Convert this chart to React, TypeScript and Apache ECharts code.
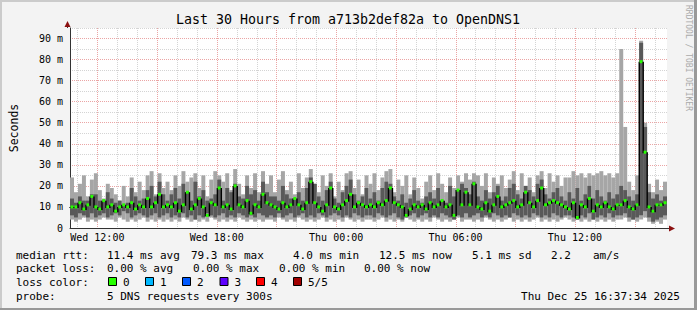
import React, { useEffect, useRef } from 'react';
import * as echarts from 'echarts';

// ---- time axis (hours since Wed 00:00) ----
const START_HOUR = 10 + 37 / 60 + 34 / 3600; // Wed 10:37:34
const RANGE_HOURS = 30;
const STEP_HOURS = 0.2; // 12 minute columns
const HOUR_MARKS = [11, 12, 13, 14, 15, 16, 17, 18, 19, 20, 21, 22, 23, 24, 25, 26, 27, 28, 29, 30, 31, 32, 33, 34, 35, 36, 37, 38, 39, 40];
const LABEL_HOURS = [12, 18, 24, 30, 36];
const LABEL_TEXTS = ['Wed 12:00', 'Wed 18:00', 'Thu 00:00', 'Thu 06:00', 'Thu 12:00'];

// ---- y axis (ms) ----
const Y_MAX = 95;
const Y_STEP = 5;

// ---- smoke data (ms), 150 columns ----
const SMOKE_MAX = [
  24, 17, 21, 25, 15, 23, 26, 18, 14, 21, 19, 16, 13, 20, 15, 24, 17, 22, 18, 25, 27, 16, 26, 19, 22,
  18, 25, 20, 27, 22, 24, 26, 19, 25, 15, 23, 27, 25, 22, 26, 18, 28, 21, 16, 25, 19, 26, 17, 27, 21,
  25, 17, 23, 27, 18, 22, 16, 26, 19, 24, 28, 21, 17, 25, 20, 26, 15, 22, 18, 26, 27, 19, 23, 16, 25,
  21, 26, 18, 24, 27, 28, 17, 23, 20, 25, 16, 24, 19, 14, 22, 25, 18, 26, 21, 17, 24, 19, 25, 22, 26,
  23, 26, 25, 20, 26, 17, 24, 21, 25, 19, 23, 27, 18, 26, 20, 24, 17, 25, 27, 19, 26, 22, 25, 20, 24,
  24, 27, 25, 26, 24, 26, 25, 26, 27, 25, 26, 24, 26, 85, 48, 22, 18, 25, 89, 50, 21, 17, 23, 18, 22,
];
const SMOKE_MIN = [
  4, 3, 4, 5, 3, 4, 3, 4, 5, 4, 4, 3, 5, 4, 3, 4, 3, 4, 5, 3, 4, 3, 4, 3, 4,
  3, 4, 3, 5, 4, 3, 4, 3, 4, 3, 5, 4, 3, 4, 3, 4, 3, 5, 4, 3, 4, 3, 4, 3, 4,
  4, 3, 5, 4, 3, 4, 3, 5, 4, 3, 4, 3, 4, 5, 3, 4, 3, 4, 3, 5, 4, 3, 4, 3, 4,
  4, 3, 4, 5, 3, 4, 3, 4, 3, 5, 4, 3, 4, 3, 4, 3, 5, 4, 3, 4, 3, 4, 5, 3, 4,
  4, 3, 4, 3, 5, 4, 3, 4, 3, 4, 5, 3, 4, 3, 4, 3, 4, 5, 3, 4, 3, 4, 3, 4, 5,
  4, 3, 4, 3, 4, 3, 4, 3, 4, 3, 4, 3, 4, 4, 5, 3, 4, 3, 4, 5, 3, 2, 3, 2, 4,
];
const DARK_HI = [
  14, 12, 15, 13, 13, 16, 16, 13, 13, 17, 14, 12, 13, 11, 12, 19, 15, 13, 14, 18, 20, 15, 22, 16, 13,
  16, 19, 14, 21, 17, 13, 22, 15, 18, 13, 14, 16, 23, 13, 19, 17, 21, 15, 14, 20, 16, 18, 13, 22, 17,
  15, 15, 13, 20, 16, 14, 14, 17, 13, 19, 24, 21, 15, 13, 18, 22, 14, 12, 17, 20, 23, 16, 13, 15, 19,
  14, 17, 13, 19, 22, 21, 15, 13, 16, 12, 14, 18, 13, 12, 15, 17, 14, 19, 13, 12, 20, 15, 18, 21, 19,
  16, 22, 15, 13, 18, 14, 17, 20, 13, 15, 19, 21, 16, 14, 20, 18, 15, 21, 23, 16, 14, 17, 19, 15, 13,
  17, 14, 19, 13, 16, 20, 14, 18, 15, 13, 17, 14, 16, 20, 18, 15, 13, 16, 88, 48, 17, 14, 16, 13, 15,
];
const DARK_LO = [
  6, 5, 7, 6, 5, 7, 5, 6, 7, 5, 6, 7, 6, 8, 7, 5, 6, 7, 6, 5, 6, 7, 5, 6, 7,
  5, 6, 5, 7, 5, 6, 4, 6, 5, 7, 6, 5, 6, 7, 5, 6, 5, 7, 6, 5, 6, 5, 7, 6, 5,
  6, 5, 7, 5, 6, 7, 5, 6, 7, 5, 6, 5, 7, 6, 5, 6, 7, 6, 5, 6, 5, 7, 6, 5, 6,
  6, 5, 7, 6, 5, 6, 7, 5, 4, 5, 6, 7, 5, 6, 7, 5, 6, 5, 7, 6, 5, 4, 6, 5, 7,
  5, 6, 7, 5, 6, 5, 7, 6, 5, 6, 5, 7, 6, 5, 6, 5, 7, 6, 5, 6, 5, 7, 6, 5, 6,
  6, 5, 4, 6, 5, 7, 4, 5, 6, 5, 7, 5, 6, 6, 7, 5, 4, 5, 6, 8, 5, 3, 4, 5, 6,
];
const MEDIAN = [
  10, 10, 12, 9, 11, 15, 10, 9, 13, 10, 11, 8, 10, 11, 10, 12, 9, 11, 10, 14, 10, 12, 16, 10, 11,
  10, 12, 8, 11, 17, 9, 11, 14, 10, 6, 12, 11, 19, 10, 11, 9, 20, 11, 10, 13, 7, 11, 10, 16, 12,
  11, 10, 9, 12, 10, 11, 14, 11, 9, 12, 22, 12, 10, 8, 11, 19, 10, 9, 11, 13, 16, 10, 12, 11, 10,
  11, 10, 12, 11, 13, 19, 12, 11, 10, 6, 9, 11, 10, 11, 9, 12, 10, 11, 13, 10, 11, 6, 18, 11, 17,
  11, 21, 10, 9, 12, 8, 11, 15, 10, 11, 12, 13, 10, 11, 17, 12, 10, 13, 19, 11, 12, 13, 12, 11, 10,
  9, 12, 5, 11, 10, 14, 8, 11, 10, 12, 10, 9, 11, 11, 13, 10, 9, 11, 79, 36, 10, 8, 11, 11, 12,
];

// ---- legend texts ----
const TITLE = 'Last 30 Hours from a713b2def82a to OpenDNS1';
const RTT_LABEL = 'median rtt:';
const RTT_ITEMS = ['11.4 ms avg', '79.3 ms max', '4.0 ms min', '12.5 ms now', '5.1 ms sd', '2.2', 'am/s'];
const LOSS_LABEL = 'packet loss:';
const LOSS_ITEMS = ['0.00 % avg', '0.00 % max', '0.00 % min', '0.00 % now'];
const LOSS_COLOR_LABEL = 'loss color:';
const LOSS_COLOR_NAMES = ['0', '1', '2', '3', '4', '5/5'];
const LOSS_COLORS = ['#26ff00', '#00b8ff', '#0059ff', '#5e00ff', '#ff0000', '#a10000'];
const PROBE_LABEL = 'probe:';
const PROBE_TEXT = '5 DNS requests every 300s';
const DATE_TEXT = 'Thu Dec 25 16:37:34 2025';
const WATERMARK = 'RRDTOOL / TOBI OETIKER';

// layout (pixels)
const RTT_X = [107, 191, 293, 379, 472, 551, 593];
const LOSS_X = [107, 193, 279, 364];
const BOX_X = [108, 145, 182, 219.5, 256, 293];
const LEGEND_Y = [255, 268.5, 282, 296];

const FONT = 'DejaVu Sans Mono';
const LIGHT = '#a6a6a6';
const DARK = '#595959';
const GREEN = '#26ff00';
const MAJOR_GRID = '#eba5a5';
const MINOR_GRID = '#d4d4d4';

export default function App() {
  const ref = useRef<HTMLDivElement>(null);

  useEffect(() => {
    document.body.style.margin = '0';
    if (!ref.current) return;
    const chart = echarts.init(ref.current, null, { renderer: 'svg' });

    const smokeData = SMOKE_MAX.map((_, i) => [
      START_HOUR + i * STEP_HOURS,
      START_HOUR + (i + 1) * STEP_HOURS,
      SMOKE_MIN[i],
      SMOKE_MAX[i],
      DARK_LO[i],
      DARK_HI[i],
      MEDIAN[i],
      i > 0 ? MEDIAN[i - 1] : MEDIAN[i],
    ]);

    const legendText = (text: string, x: number, y: number, align = 'left') => ({
      type: 'text',
      x,
      y,
      style: { text, fill: '#000', font: `11px "${FONT}"`, textAlign: align, textVerticalAlign: 'middle' },
    });

    const graphics: any[] = [
      { type: 'rect', shape: { x: 0, y: 0, width: 697, height: 2 }, style: { fill: '#cbcbcb' } },
      { type: 'rect', shape: { x: 0, y: 0, width: 2, height: 310 }, style: { fill: '#cbcbcb' } },
      { type: 'rect', shape: { x: 0, y: 308, width: 697, height: 2 }, style: { fill: '#999999' } },
      { type: 'rect', shape: { x: 694, y: 0, width: 3, height: 310 }, style: { fill: '#999999' } },
      {
        type: 'text', x: 348, y: 19,
        style: { text: TITLE, fill: '#000', font: `13.3px "${FONT}"`, textAlign: 'center', textVerticalAlign: 'middle' },
      },
      {
        type: 'text', x: 688, y: 58, rotation: -Math.PI / 2,
        style: { text: WATERMARK, fill: '#aaaaaa', font: `8px "${FONT}"`, textAlign: 'center', textVerticalAlign: 'middle' },
      },
      // axis extensions and arrows
      { type: 'line', shape: { x1: 67.5, y1: 28, x2: 67.5, y2: 24 }, style: { stroke: '#333', lineWidth: 1 } },
      { type: 'polygon', shape: { points: [[64.5, 27], [70.5, 27], [67.5, 21]] }, style: { fill: '#8b1010' } },
      { type: 'line', shape: { x1: 667, y1: 228.5, x2: 671, y2: 228.5 }, style: { stroke: '#333', lineWidth: 1 } },
      { type: 'polygon', shape: { points: [[669, 225.5], [669, 231.5], [675, 228.5]] }, style: { fill: '#8b1010' } },
      legendText(RTT_LABEL, 16, LEGEND_Y[0]),
      ...RTT_ITEMS.map((t, i) => legendText(t, RTT_X[i], LEGEND_Y[0])),
      legendText(LOSS_LABEL, 16, LEGEND_Y[1]),
      ...LOSS_ITEMS.map((t, i) => legendText(t, LOSS_X[i], LEGEND_Y[1])),
      legendText(LOSS_COLOR_LABEL, 16, LEGEND_Y[2]),
      ...LOSS_COLORS.map((c, i) => ({
        type: 'rect',
        shape: { x: BOX_X[i] + 0.5, y: LEGEND_Y[2] - 4.5, width: 8, height: 8 },
        style: { fill: c, stroke: '#000', lineWidth: 1 },
      })),
      ...LOSS_COLOR_NAMES.map((t, i) => legendText(t, BOX_X[i] + 15, LEGEND_Y[2])),
      legendText(PROBE_LABEL, 16, LEGEND_Y[3]),
      legendText(PROBE_TEXT, 107, LEGEND_Y[3]),
      legendText(DATE_TEXT, 680, LEGEND_Y[3], 'right'),
    ];

    chart.setOption({
      animation: false,
      backgroundColor: '#f3f3f3',
      textStyle: { fontFamily: FONT },
      grid: { left: 67, top: 28, width: 600, height: 200, show: true, backgroundColor: '#ffffff', borderWidth: 0 },
      xAxis: {
        type: 'value',
        min: START_HOUR,
        max: START_HOUR + RANGE_HOURS,
        axisLine: { show: true, onZero: false, lineStyle: { color: '#333', width: 1 } },
        axisTick: { show: false },
        axisLabel: { show: false },
        splitLine: { show: false },
        z: 4,
      },
      yAxis: {
        type: 'value',
        min: 0,
        max: Y_MAX,
        interval: Y_STEP,
        name: 'Seconds',
        nameLocation: 'middle',
        nameRotate: 90,
        nameGap: 50,
        nameTextStyle: { fontFamily: FONT, fontSize: 11.5, color: '#000' },
        axisLine: { show: true, lineStyle: { color: '#333', width: 1 } },
        axisTick: { show: false },
        axisLabel: {
          fontFamily: FONT,
          fontSize: 10,
          color: '#000',
          margin: 7,
          formatter: (v: number) => (v === 0 ? '0' : v % 10 === 0 ? `${v} m` : ''),
        },
        splitLine: {
          show: true,
          lineStyle: { color: [MAJOR_GRID, MINOR_GRID], type: [1, 1], width: 1 },
        },
      },
      graphic: graphics,
      series: [
        {
          type: 'custom',
          name: 'timegrid',
          z: 1,
          data: HOUR_MARKS.map((h) => [h]),
          renderItem: (params: any, api: any) => {
            const h = api.value(0);
            const top = api.coord([h, Y_MAX]);
            const bot = api.coord([h, 0]);
            const x = Math.round(top[0]) + 0.5;
            const major = h % 3 === 0;
            const children: any[] = [
              {
                type: 'line',
                shape: { x1: x, y1: top[1], x2: x, y2: bot[1] },
                style: { stroke: major ? MAJOR_GRID : MINOR_GRID, lineWidth: 1, lineDash: [1, 1] },
              },
            ];
            const li = LABEL_HOURS.indexOf(h);
            if (li >= 0) {
              children.push({
                type: 'text',
                x: top[0],
                y: bot[1] + 9.5,
                style: { text: LABEL_TEXTS[li], fill: '#000', font: `10px "${FONT}"`, textAlign: 'center', textVerticalAlign: 'middle' },
              });
            }
            return { type: 'group', children };
          },
        },
        {
          type: 'custom',
          name: 'smoke',
          z: 2,
          data: smokeData,
          renderItem: (params: any, api: any) => {
            const x0 = api.value(0);
            const x1 = api.value(1);
            const a = api.coord([x0, api.value(3)]);
            const b = api.coord([x1, api.value(2)]);
            const c = api.coord([x0, api.value(5)]);
            const d = api.coord([x1, api.value(4)]);
            const m = api.coord([x0, api.value(6)]);
            const pm = api.coord([x0, api.value(7)]);
            const w = b[0] - a[0];
            return {
              type: 'group',
              children: [
                { type: 'rect', shape: { x: a[0], y: a[1], width: w, height: b[1] - a[1] }, style: { fill: LIGHT } },
                { type: 'rect', shape: { x: c[0], y: c[1], width: w, height: d[1] - c[1] }, style: { fill: DARK } },
                {
                  type: 'rect',
                  shape: { x: m[0] - 0.6, y: Math.min(m[1], pm[1]), width: 1.4, height: Math.abs(m[1] - pm[1]) + 1 },
                  style: { fill: '#000' },
                },
                { type: 'rect', shape: { x: m[0] + 0.5, y: m[1] - 1.5, width: 3, height: 3 }, style: { fill: GREEN } },
              ],
            };
          },
        },
      ],
    });

    return () => chart.dispose();
  }, []);

  return <div ref={ref} style={{ width: 697, height: 310 }} />;
}
